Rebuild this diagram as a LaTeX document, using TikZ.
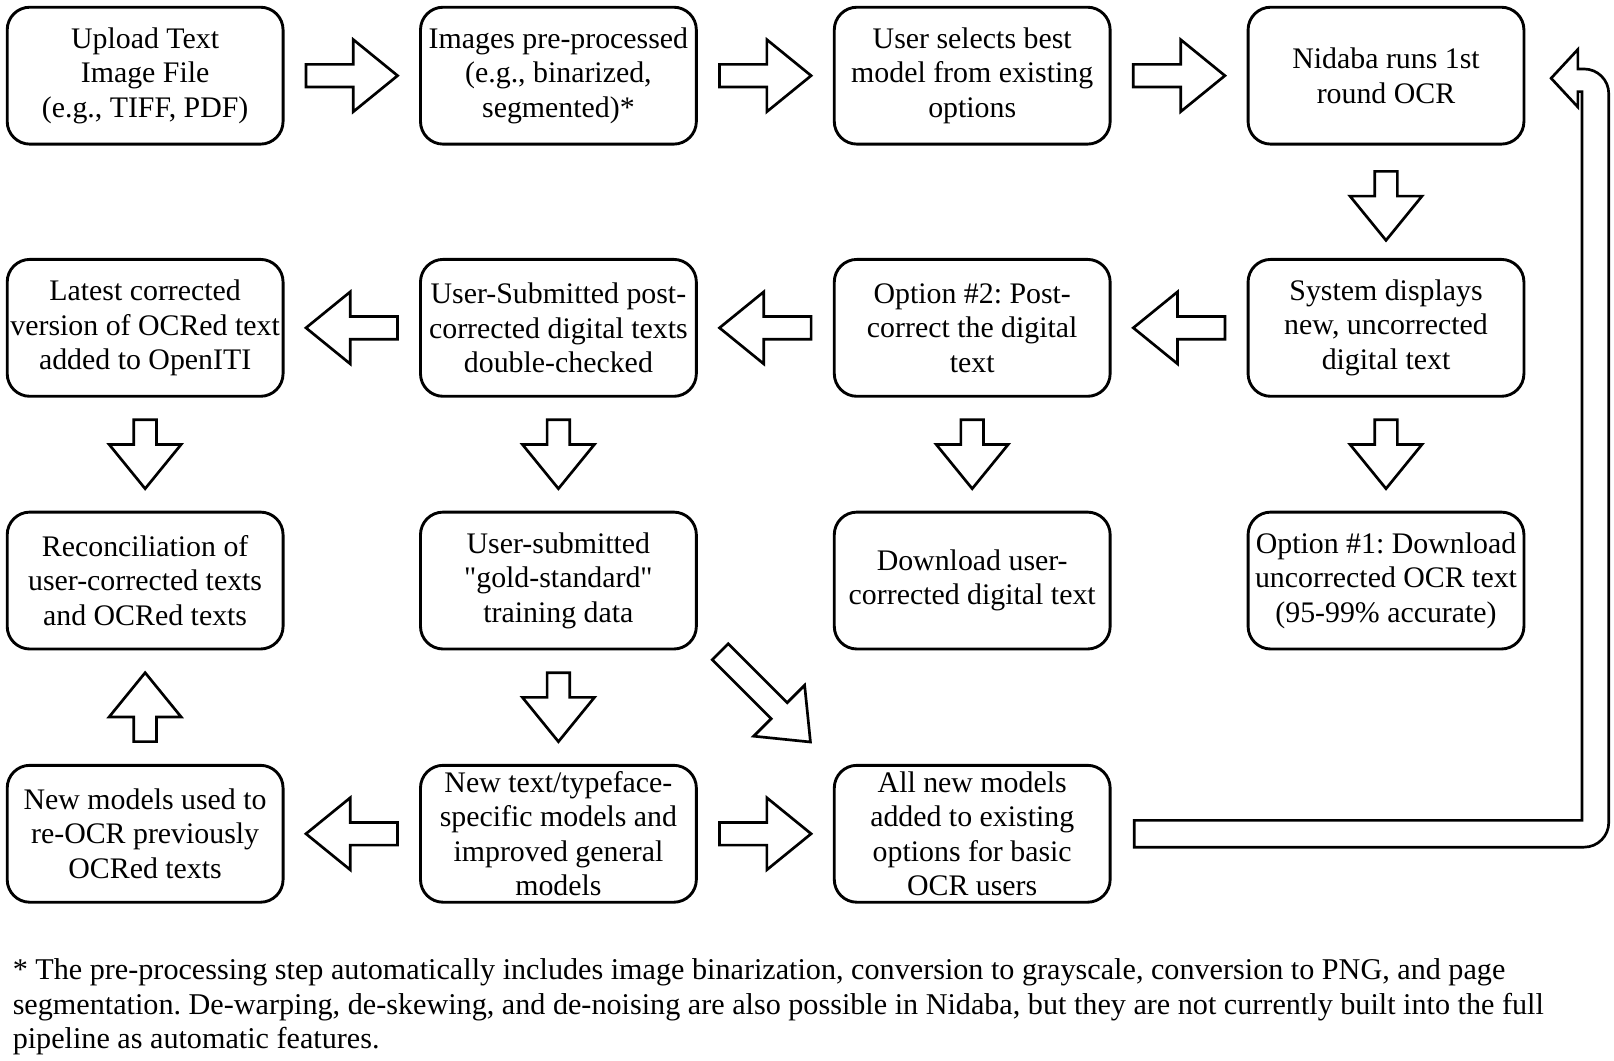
\documentclass[tikz,border=0pt]{standalone}
\usepackage{fontspec}
\setmainfont{Liberation Serif}
\usetikzlibrary{calc}
\frenchspacing

\tikzset{
  box/.style={draw, line width=1.4pt, rounded corners=11, minimum width=134pt, minimum height=66.5pt, align=center, inner sep=0pt, font=\fontsize{14.5}{16.75}\selectfont},
  arrowline/.style={line width=1.3pt, line join=miter},
  pics/barrow/.style={code={
    \draw[arrowline] (-#1/2,-11) -- (#1/2-43,-11) -- (#1/2-43,-35) -- (#1/2,0) -- (#1/2-43,35) -- (#1/2-43,11) -- (-#1/2,11) -- cycle;
  }},
}

\begin{document}
\begin{tikzpicture}[x=0.5pt, y=-0.5pt]
    \useasboundingbox (0,0) rectangle (1568,1030);

    % Row 1
    \node[box] (upload) at (141,73.5) {Upload Text\\Image File\\(e.g., TIFF, PDF)};
    \node[box] (preproc) at (542.5,73.5) {Images pre-processed\\(e.g., binarized,\\segmented)*};
    \node[box] (select) at (944.5,73.5) {User selects best\\model from existing\\options};
    \node[box] (nidaba) at (1346.5,73.5) {Nidaba runs 1st\\round OCR};

    % Row 2
    \node[box] (latest) at (141,318.5) {Latest corrected\\version of OCRed text\\added to OpenITI};
    \node[box] (checked) at (542.5,318.5) {User-Submitted post-\\corrected digital texts\\double-checked};
    \node[box] (optwo) at (944.5,318.5) {Option \#2: Post-\\correct the digital\\text};
    \node[box] (display) at (1346.5,318.5) {System displays\\new, uncorrected\\digital text};

    % Row 3
    \node[box] (reconcile) at (141,564) {Reconciliation of\\user-corrected texts\\and OCRed texts};
    \node[box] (gold) at (542.5,564) {User-submitted\\\textquotedbl gold-standard\textquotedbl\\training data};
    \node[box] (download) at (944.5,564) {Download user-\\corrected digital text};
    \node[box] (optone) at (1346.5,564) {Option \#1: Download\\uncorrected OCR text\\(95-99\% accurate)};

    % Row 4
    \node[box] (reocr) at (141,810) {New models used to\\re-OCR previously\\OCRed texts};
    \node[box] (newmodels) at (542.5,810) {New text/typeface-\\specific models and\\improved general\\models};
    \node[box] (allnew) at (944.5,810) {All new models\\added to existing\\options for basic\\OCR users};

    % Block arrows
    \pic at ($(upload.east)!0.5!(preproc.west)$) {barrow=89};
    \pic at ($(preproc.east)!0.5!(select.west)$) {barrow=89};
    \pic at ($(select.east)!0.5!(nidaba.west)$) {barrow=89};
    \pic[rotate=-90] at ($(nidaba.south)!0.5!(display.north)+(0,4)$) {barrow=67};
    \pic[rotate=180] at ($(display.west)!0.5!(optwo.east)$) {barrow=89};
    \pic[rotate=180] at ($(optwo.west)!0.5!(checked.east)$) {barrow=89};
    \pic[rotate=180] at ($(checked.west)!0.5!(latest.east)$) {barrow=89};
    \pic[rotate=-90] at ($(latest.south)!0.5!(reconcile.north)$) {barrow=67};
    \pic[rotate=-90] at ($(checked.south)!0.5!(gold.north)$) {barrow=67};
    \pic[rotate=-90] at ($(optwo.south)!0.5!(download.north)$) {barrow=67};
    \pic[rotate=-90] at ($(display.south)!0.5!(optone.north)$) {barrow=67};
    \pic[rotate=-90] at ($(gold.south)!0.5!(newmodels.north)$) {barrow=67};
    \pic[rotate=90] at ($(reocr.north)!0.5!(reconcile.south)$) {barrow=67};
    \pic[rotate=180] at ($(newmodels.west)!0.5!(reocr.east)$) {barrow=89};
    \pic at ($(newmodels.east)!0.5!(allnew.west)$) {barrow=89};
    \pic[rotate=-45] at ($(gold.south east)!0.5!(allnew.north west)+(0,-10)$) {barrow=124};

    % Loop back to Nidaba
    \coordinate (looptip) at ($(nidaba.east)+(25,2.5)$);
    \draw[arrowline] ($(allnew.east)+(22,13)$) -- ++(0,-26) -- ++(435,0) |- ($(looptip)+(26,13)$) -- ++(0,15) -- (looptip) -- ++(26,-28) -- ++(0,19) [rounded corners=12] -| ($(allnew.east)+(483,13)$) [sharp corners] -- cycle;

    % Footnote
    \node[anchor=north west, align=left, inner sep=0pt, font=\fontsize{14.65}{16.8}\selectfont] (note) at (12,931) {* The pre-processing step automatically includes image binarization, conversion to grayscale, conversion to PNG, and page\\segmentation. De-warping, de-skewing, and de-noising are also possible in Nidaba, but they are not currently built into the full\\pipeline as automatic features.};
\end{tikzpicture}
\end{document}
